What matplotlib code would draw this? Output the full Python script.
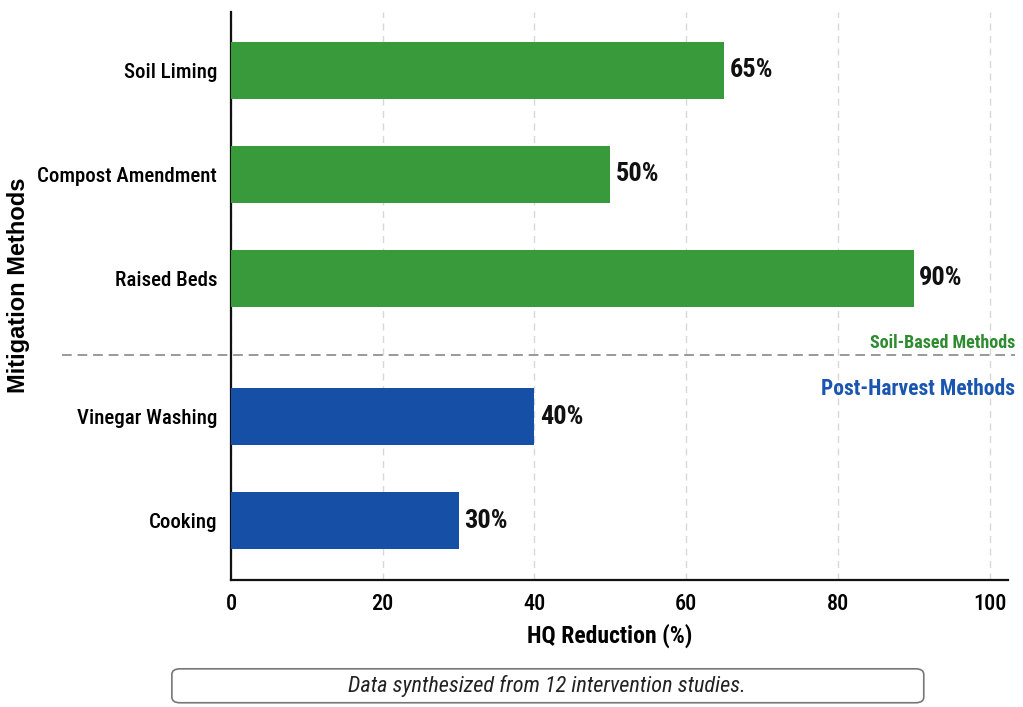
import matplotlib
matplotlib.use("Agg")
import matplotlib.pyplot as plt
from matplotlib import font_manager
from matplotlib.patches import FancyBboxPatch
from matplotlib.transforms import blended_transform_factory

# data
methods = ["Soil Liming", "Compost Amendment", "Raised Beds", "Vinegar Washing", "Cooking"]
reduction = [65, 50, 90, 40, 30]
labels = ["65%", "50%", "90%", "40%", "30%"]
groups = ["soil", "soil", "soil", "post", "post"]

# layout: soil group on top, gap, then post-harvest group
positions = [0, 1, 2, 3.33, 4.33]
divider_y = 2.74

GREEN = "#389a3a"
BLUE = "#1650a6"
colors = {"soil": GREEN, "post": BLUE}

installed = {f.name for f in font_manager.fontManager.ttflist}


def pick(*names):
    return [n for n in names if n in installed] + ["DejaVu Sans"]


NARROW = pick("Roboto Condensed", "Archivo Narrow", "Fira Sans Condensed")
WIDE = pick("Liberation Sans", "Arimo")
plt.rcParams["font.family"] = NARROW

fig = plt.figure(figsize=(10.23, 7.07), dpi=100)
ax = fig.add_axes([0.2258, 0.1796, 0.7595, 0.8034])

ax.barh(positions, reduction, height=0.55,
        color=[colors[g] for g in groups], zorder=3)

for y, v, lab in zip(positions, reduction, labels):
    ax.text(v + 0.7, y, lab, va="center", ha="left", fontsize=19,
            fontweight="bold", color="#111111", zorder=4)

ax.set_xlim(0, 102.4)
ax.set_ylim(4.9, -0.56)
ax.set_xticks([0, 20, 40, 60, 80, 100])
ax.set_yticks(positions)
ax.set_yticklabels(methods)
ax.tick_params(axis="both", length=0)
ax.tick_params(axis="y", pad=10, labelsize=15)
ax.tick_params(axis="x", pad=9, labelsize=16)
for t in ax.get_yticklabels() + ax.get_xticklabels():
    t.set_fontweight("medium")

ax.xaxis.grid(True, color="#d8d8d8", linestyle=(0, (5, 4)), linewidth=1, zorder=0)
ax.set_axisbelow(True)

for side in ["top", "right"]:
    ax.spines[side].set_visible(False)
for side in ["left", "bottom"]:
    ax.spines[side].set_linewidth(1.6)
    ax.spines[side].set_color("#111111")

ax.set_xlabel("HQ Reduction (%)", fontsize=17, fontweight="bold")
ax.xaxis.set_label_coords(0.487, -0.077)
fig.text(0.018, 0.597, "Mitigation Methods", rotation=90, va="center", ha="center",
         fontsize=17, fontweight="bold", family=WIDE)

# group divider and labels
trans = blended_transform_factory(ax.transAxes, ax.transData)
ax.plot([-0.2175, 1.009], [divider_y, divider_y], transform=trans, clip_on=False,
        color="#999999", linestyle=(0, (5, 3)), linewidth=1.4, zorder=2)
ax.text(1.009, divider_y - 0.03, "Soil-Based Methods", transform=trans, ha="right",
        va="bottom", fontsize=13, fontweight="semibold", color="#2e8b30", clip_on=False)
ax.text(1.009, divider_y + 0.32, "Post-Harvest Methods", transform=trans, ha="right",
        va="center", fontsize=15.5, fontweight="bold", color="#1a55b0", clip_on=False)

# footnote box
box = FancyBboxPatch((0.168, 0.006), 0.735, 0.048, transform=fig.transFigure,
                     boxstyle="round,pad=0,rounding_size=0.008",
                     facecolor="white", edgecolor="#777777", linewidth=1.2)
fig.patches.append(box)
fig.text(0.535, 0.030, "Data synthesized from 12 intervention studies.",
         ha="center", va="center", fontsize=16, style="italic", color="#222222")

fig.savefig("out.png", dpi=100)
